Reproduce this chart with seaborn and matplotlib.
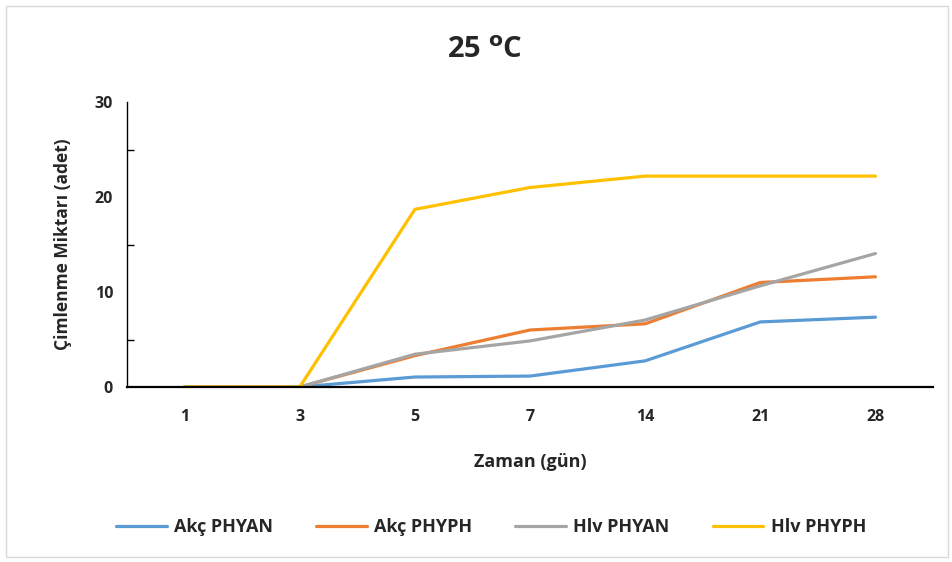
import matplotlib
matplotlib.use("Agg")
import matplotlib.pyplot as plt
import seaborn as sns
import pandas as pd
from matplotlib.patches import Rectangle
from matplotlib.ticker import FixedLocator, NullFormatter

days = ["1", "3", "5", "7", "14", "21", "28"]
akc_phyan = [0, 0, 1.05, 1.15, 2.75, 6.85, 7.35]
akc_phyph = [0, 0, 3.3, 6.0, 6.65, 11.0, 11.6]
hlv_phyan = [0, 0, 3.45, 4.85, 7.05, 10.65, 14.05]
hlv_phyph = [0, 0, 18.7, 21.0, 22.2, 22.2, 22.2]
series_names = ["Akç PHYAN", "Akç PHYPH", "Hlv PHYAN", "Hlv PHYPH"]
colors = ["#5B9BD5", "#ED7D31", "#A5A5A5", "#FFC000"]

rows = []
for name, vals in zip(series_names, [akc_phyan, akc_phyph, hlv_phyan, hlv_phyph]):
    for i, (d, v) in enumerate(zip(days, vals)):
        rows.append({"idx": i, "day": d, "val": v, "series": name})
df = pd.DataFrame(rows)

sns.set_theme(style="white")
plt.rcParams["font.family"] = ["Open Sans", "DejaVu Sans"]

fig = plt.figure(figsize=(9.53, 5.62), dpi=100)
W, H = 953, 562
ax = fig.add_axes([127 / W, 1 - 387 / H, (933 - 127) / W, (387 - 102) / H])

sns.lineplot(data=df, x="idx", y="val", hue="series", hue_order=series_names,
             palette=colors, linewidth=2.3, ax=ax, legend=True, sort=False)

ax.set_xlim(-0.5, 6.5)
ax.set_ylim(0, 30)
ax.set_xticks(range(len(days)))
ax.set_xticklabels(days, fontsize=11.5, fontweight="bold")
ax.xaxis.set_minor_locator(FixedLocator([i - 0.5 for i in range(len(days) + 1)]))
ax.tick_params(axis="x", which="major", length=0, pad=16)
ax.tick_params(axis="x", which="minor", length=5, width=1, direction="out", color="black")

ax.set_yticks([0, 10, 20, 30])
ax.set_yticklabels(["0", "10", "20", "30"], fontsize=11.5, fontweight="bold")
ax.yaxis.set_minor_locator(FixedLocator([5, 15, 25]))
ax.yaxis.set_minor_formatter(NullFormatter())
ax.tick_params(axis="y", which="major", length=10, width=1, direction="inout", color="black", pad=5)
ax.tick_params(axis="y", which="minor", length=5, width=1, direction="in", color="black", left=True)

for s in ["top", "right"]:
    ax.spines[s].set_visible(False)
ax.spines["left"].set_color("black")
ax.spines["left"].set_linewidth(1)
ax.spines["bottom"].set_color("black")
ax.spines["bottom"].set_linewidth(1.6)

ax.set_xlabel("Zaman (gün)", fontsize=13, fontweight="bold", labelpad=20)
ax.set_ylabel("Çimlenme Miktarı (adet)", fontsize=12.5, fontweight="bold", labelpad=16)

fig.text(485 / W, 1 - 50 / H, r"25 $^{\mathbf{o}}$C", fontsize=21, fontweight="bold",
         ha="center", va="center")

handles, labels = ax.get_legend_handles_labels()
ax.get_legend().remove()
leg = fig.legend(handles, labels, loc="center", bbox_to_anchor=(491 / W, 1 - 527 / H),
                 ncol=4, frameon=False, handlelength=2.8, columnspacing=2.4,
                 handletextpad=0.4, prop={"size": 13, "weight": "bold"})
for line in leg.get_lines():
    line.set_linewidth(2.3)

fig.patches.append(Rectangle((6 / W, 1 - 557 / H), (948 - 6) / W, (557 - 6) / H,
                             transform=fig.transFigure, fill=False,
                             edgecolor="#D9D9D9", linewidth=1))

fig.savefig("out.png", dpi=100)
